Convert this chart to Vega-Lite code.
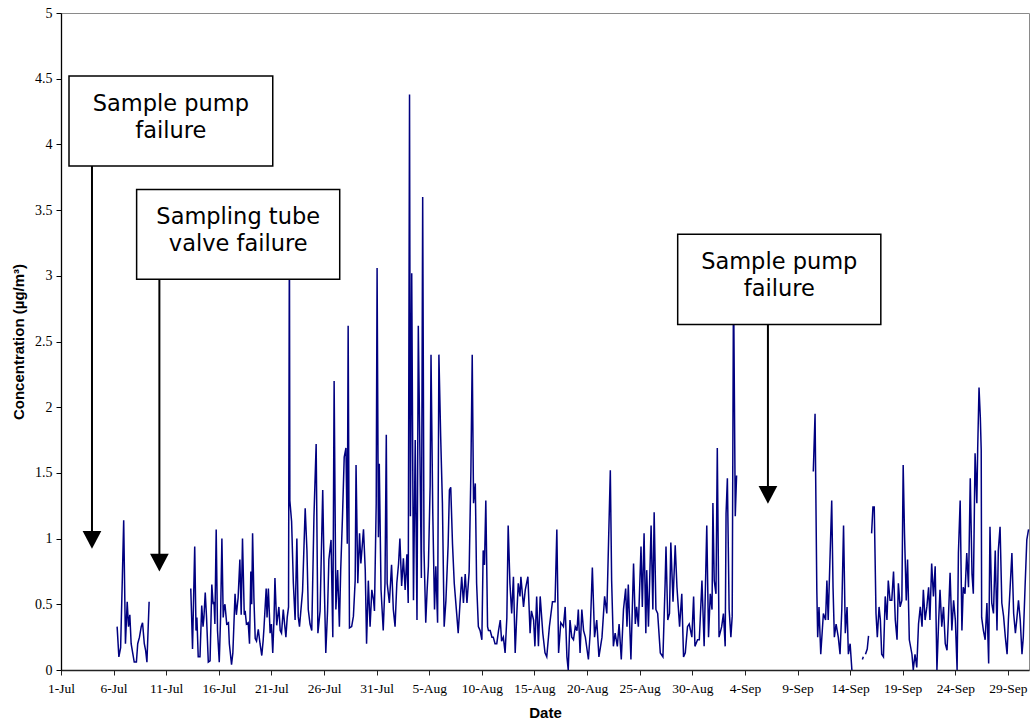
{
  "$schema": "https://vega.github.io/schema/vega-lite/v6.json",
  "width": 968,
  "height": 657,
  "autosize": {"type": "none"},
  "padding": {"left": 61, "top": 13, "right": 1, "bottom": 55},
  "background": "white",
  "config": {
    "font": "Liberation Sans",
    "view": {"stroke": "#8a8a8a", "strokeWidth": 1},
    "axis": {
      "grid": false,
      "tickWidth": 1,
      "tickSize": 5,
      "labelFont": "Liberation Serif",
      "labelColor": "black",
      "labelFlush": false,
      "labelOverlap": false,
      "titleFont": "Liberation Sans",
      "titleFontWeight": "bold",
      "titleFontSize": 15,
      "titleColor": "black"
    },
    "axisX": {
      "domainColor": "#222222",
      "domainWidth": 1.5,
      "tickColor": "#222222",
      "labelFontSize": 13.5,
      "labelPadding": 6,
      "titlePadding": 11
    },
    "axisY": {
      "domainColor": "black",
      "domainWidth": 1.3,
      "tickColor": "black",
      "labelFontSize": 14,
      "labelPadding": 4,
      "titlePadding": 8
    }
  },
  "datasets": {
    "concentration": [
      {"time":"2005-07-06T08:00","conc":0.33,"run":1},
      {"time":"2005-07-06T12:00","conc":0.10,"run":1},
      {"time":"2005-07-06T16:00","conc":0.17,"run":1},
      {"time":"2005-07-06T20:00","conc":0.71,"run":1},
      {"time":"2005-07-06T23:00","conc":1.14,"run":1},
      {"time":"2005-07-07T03:00","conc":0.20,"run":1},
      {"time":"2005-07-07T07:00","conc":0.52,"run":1},
      {"time":"2005-07-07T10:00","conc":0.33,"run":1},
      {"time":"2005-07-07T13:00","conc":0.42,"run":1},
      {"time":"2005-07-07T16:00","conc":0.20,"run":1},
      {"time":"2005-07-07T20:00","conc":0.12,"run":1},
      {"time":"2005-07-07T23:00","conc":0.06,"run":1},
      {"time":"2005-07-08T04:00","conc":0.06,"run":1},
      {"time":"2005-07-08T07:00","conc":0.20,"run":1},
      {"time":"2005-07-08T11:00","conc":0.25,"run":1},
      {"time":"2005-07-08T15:00","conc":0.33,"run":1},
      {"time":"2005-07-08T18:00","conc":0.36,"run":1},
      {"time":"2005-07-08T22:00","conc":0.20,"run":1},
      {"time":"2005-07-09T01:00","conc":0.15,"run":1},
      {"time":"2005-07-09T04:00","conc":0.06,"run":1},
      {"time":"2005-07-09T09:00","conc":0.52,"run":1},

      {"time":"2005-07-13T08:00","conc":0.62,"run":2},
      {"time":"2005-07-13T10:00","conc":0.40,"run":2},
      {"time":"2005-07-13T12:00","conc":0.16,"run":2},
      {"time":"2005-07-13T17:00","conc":0.94,"run":2},
      {"time":"2005-07-13T20:00","conc":0.30,"run":2},
      {"time":"2005-07-13T22:00","conc":0.40,"run":2},
      {"time":"2005-07-14T01:00","conc":0.10,"run":2},
      {"time":"2005-07-14T05:00","conc":0.10,"run":2},
      {"time":"2005-07-14T09:00","conc":0.49,"run":2},
      {"time":"2005-07-14T12:00","conc":0.33,"run":2},
      {"time":"2005-07-14T14:00","conc":0.40,"run":2},
      {"time":"2005-07-14T17:00","conc":0.59,"run":2},
      {"time":"2005-07-14T20:00","conc":0.40,"run":2},
      {"time":"2005-07-15T00:00","conc":0.06,"run":2},
      {"time":"2005-07-15T04:00","conc":0.07,"run":2},
      {"time":"2005-07-15T08:00","conc":0.65,"run":2},
      {"time":"2005-07-15T11:00","conc":0.50,"run":2},
      {"time":"2005-07-15T13:00","conc":0.52,"run":2},
      {"time":"2005-07-15T15:00","conc":0.35,"run":2},
      {"time":"2005-07-15T18:00","conc":1.07,"run":2},
      {"time":"2005-07-15T21:00","conc":0.30,"run":2},
      {"time":"2005-07-16T01:00","conc":0.06,"run":2},
      {"time":"2005-07-16T04:00","conc":0.40,"run":2},
      {"time":"2005-07-16T07:00","conc":1.00,"run":2},
      {"time":"2005-07-16T10:00","conc":0.40,"run":2},
      {"time":"2005-07-16T12:00","conc":0.48,"run":2},
      {"time":"2005-07-16T14:00","conc":0.50,"run":2},
      {"time":"2005-07-16T18:00","conc":0.35,"run":2},
      {"time":"2005-07-16T22:00","conc":0.36,"run":2},
      {"time":"2005-07-17T00:00","conc":0.20,"run":2},
      {"time":"2005-07-17T05:00","conc":0.04,"run":2},
      {"time":"2005-07-17T08:00","conc":0.13,"run":2},
      {"time":"2005-07-17T13:00","conc":0.58,"run":2},
      {"time":"2005-07-17T16:00","conc":0.42,"run":2},
      {"time":"2005-07-17T20:00","conc":0.55,"run":2},
      {"time":"2005-07-18T00:00","conc":0.84,"run":2},
      {"time":"2005-07-18T03:00","conc":0.42,"run":2},
      {"time":"2005-07-18T06:00","conc":1.00,"run":2},
      {"time":"2005-07-18T10:00","conc":0.42,"run":2},
      {"time":"2005-07-18T12:00","conc":0.45,"run":2},
      {"time":"2005-07-18T15:00","conc":0.35,"run":2},
      {"time":"2005-07-18T19:00","conc":0.36,"run":2},
      {"time":"2005-07-18T22:00","conc":0.20,"run":2},
      {"time":"2005-07-19T01:00","conc":0.75,"run":2},
      {"time":"2005-07-19T03:00","conc":0.50,"run":2},
      {"time":"2005-07-19T05:00","conc":1.04,"run":2},
      {"time":"2005-07-19T08:00","conc":0.55,"run":2},
      {"time":"2005-07-19T11:00","conc":0.24,"run":2},
      {"time":"2005-07-19T14:00","conc":0.22,"run":2},
      {"time":"2005-07-19T18:00","conc":0.31,"run":2},
      {"time":"2005-07-19T22:00","conc":0.20,"run":2},
      {"time":"2005-07-20T02:00","conc":0.11,"run":2},
      {"time":"2005-07-20T05:00","conc":0.22,"run":2},
      {"time":"2005-07-20T07:00","conc":0.32,"run":2},
      {"time":"2005-07-20T12:00","conc":0.62,"run":2},
      {"time":"2005-07-20T14:00","conc":0.40,"run":2},
      {"time":"2005-07-20T17:00","conc":0.62,"run":2},
      {"time":"2005-07-20T21:00","conc":0.28,"run":2},
      {"time":"2005-07-21T00:00","conc":0.35,"run":2},
      {"time":"2005-07-21T03:00","conc":0.13,"run":2},
      {"time":"2005-07-21T06:00","conc":0.40,"run":2},
      {"time":"2005-07-21T08:00","conc":0.70,"run":2},
      {"time":"2005-07-21T12:00","conc":0.34,"run":2},
      {"time":"2005-07-21T17:00","conc":0.48,"run":2},
      {"time":"2005-07-21T20:00","conc":0.30,"run":2},
      {"time":"2005-07-21T23:00","conc":0.28,"run":2},
      {"time":"2005-07-22T03:00","conc":0.46,"run":2},
      {"time":"2005-07-22T06:00","conc":0.35,"run":2},
      {"time":"2005-07-22T09:00","conc":0.25,"run":2},
      {"time":"2005-07-22T12:00","conc":0.40,"run":2},
      {"time":"2005-07-22T15:00","conc":0.48,"run":2},
      {"time":"2005-07-22T17:00","conc":3.40,"run":2},
      {"time":"2005-07-22T18:00","conc":1.29,"run":2},
      {"time":"2005-07-22T22:00","conc":1.13,"run":2},
      {"time":"2005-07-23T02:00","conc":0.66,"run":2},
      {"time":"2005-07-23T06:00","conc":0.38,"run":2},
      {"time":"2005-07-23T10:00","conc":1.00,"run":2},
      {"time":"2005-07-23T13:00","conc":0.41,"run":2},
      {"time":"2005-07-23T16:00","conc":0.33,"run":2},
      {"time":"2005-07-23T23:00","conc":0.60,"run":2},
      {"time":"2005-07-24T05:00","conc":1.23,"run":2},
      {"time":"2005-07-24T09:00","conc":0.91,"run":2},
      {"time":"2005-07-24T12:00","conc":0.46,"run":2},
      {"time":"2005-07-24T16:00","conc":0.35,"run":2},
      {"time":"2005-07-24T20:00","conc":0.30,"run":2},
      {"time":"2005-07-25T01:00","conc":1.17,"run":2},
      {"time":"2005-07-25T06:00","conc":1.72,"run":2},
      {"time":"2005-07-25T10:00","conc":0.28,"run":2},
      {"time":"2005-07-25T15:00","conc":0.45,"run":2},
      {"time":"2005-07-25T21:00","conc":1.37,"run":2},
      {"time":"2005-07-26T01:00","conc":0.58,"run":2},
      {"time":"2005-07-26T04:00","conc":0.13,"run":2},
      {"time":"2005-07-26T08:00","conc":0.45,"run":2},
      {"time":"2005-07-26T11:00","conc":0.84,"run":2},
      {"time":"2005-07-26T16:00","conc":0.99,"run":2},
      {"time":"2005-07-26T20:00","conc":0.25,"run":2},
      {"time":"2005-07-26T23:00","conc":2.20,"run":2},
      {"time":"2005-07-27T03:00","conc":0.46,"run":2},
      {"time":"2005-07-27T07:00","conc":0.76,"run":2},
      {"time":"2005-07-27T11:00","conc":0.33,"run":2},
      {"time":"2005-07-27T14:00","conc":0.76,"run":2},
      {"time":"2005-07-27T18:00","conc":1.16,"run":2},
      {"time":"2005-07-27T22:00","conc":1.62,"run":2},
      {"time":"2005-07-28T02:00","conc":1.69,"run":2},
      {"time":"2005-07-28T05:00","conc":0.96,"run":2},
      {"time":"2005-07-28T07:00","conc":2.62,"run":2},
      {"time":"2005-07-28T10:00","conc":0.32,"run":2},
      {"time":"2005-07-28T15:00","conc":0.33,"run":2},
      {"time":"2005-07-28T19:00","conc":0.41,"run":2},
      {"time":"2005-07-28T23:00","conc":0.68,"run":2},
      {"time":"2005-07-29T01:00","conc":1.56,"run":2},
      {"time":"2005-07-29T05:00","conc":0.66,"run":2},
      {"time":"2005-07-29T09:00","conc":1.04,"run":2},
      {"time":"2005-07-29T12:00","conc":0.81,"run":2},
      {"time":"2005-07-29T18:00","conc":1.07,"run":2},
      {"time":"2005-07-29T22:00","conc":0.76,"run":2},
      {"time":"2005-07-30T01:00","conc":0.20,"run":2},
      {"time":"2005-07-30T05:00","conc":0.68,"run":2},
      {"time":"2005-07-30T09:00","conc":0.33,"run":2},
      {"time":"2005-07-30T13:00","conc":0.61,"run":2},
      {"time":"2005-07-30T17:00","conc":0.53,"run":2},
      {"time":"2005-07-30T19:00","conc":0.45,"run":2},
      {"time":"2005-07-30T23:00","conc":1.27,"run":2},
      {"time":"2005-07-31T01:00","conc":3.06,"run":2},
      {"time":"2005-07-31T04:00","conc":1.01,"run":2},
      {"time":"2005-07-31T06:00","conc":1.57,"run":2},
      {"time":"2005-07-31T10:00","conc":0.61,"run":2},
      {"time":"2005-07-31T15:00","conc":0.30,"run":2},
      {"time":"2005-07-31T19:00","conc":0.66,"run":2},
      {"time":"2005-07-31T22:00","conc":1.79,"run":2},
      {"time":"2005-08-01T00:00","conc":0.66,"run":2},
      {"time":"2005-08-01T05:00","conc":0.51,"run":2},
      {"time":"2005-08-01T10:00","conc":0.80,"run":2},
      {"time":"2005-08-01T14:00","conc":0.46,"run":2},
      {"time":"2005-08-01T18:00","conc":0.33,"run":2},
      {"time":"2005-08-01T22:00","conc":0.66,"run":2},
      {"time":"2005-08-02T02:00","conc":0.81,"run":2},
      {"time":"2005-08-02T05:00","conc":1.00,"run":2},
      {"time":"2005-08-02T09:00","conc":0.64,"run":2},
      {"time":"2005-08-02T13:00","conc":0.85,"run":2},
      {"time":"2005-08-02T17:00","conc":0.61,"run":2},
      {"time":"2005-08-02T21:00","conc":0.88,"run":2},
      {"time":"2005-08-03T00:00","conc":0.51,"run":2},
      {"time":"2005-08-03T03:00","conc":4.38,"run":2},
      {"time":"2005-08-03T05:00","conc":1.17,"run":2},
      {"time":"2005-08-03T08:00","conc":3.02,"run":2},
      {"time":"2005-08-03T12:00","conc":0.53,"run":2},
      {"time":"2005-08-03T16:00","conc":1.75,"run":2},
      {"time":"2005-08-03T20:00","conc":0.38,"run":2},
      {"time":"2005-08-03T23:00","conc":2.62,"run":2},
      {"time":"2005-08-04T03:00","conc":1.57,"run":2},
      {"time":"2005-08-04T06:00","conc":0.70,"run":2},
      {"time":"2005-08-04T09:00","conc":3.60,"run":2},
      {"time":"2005-08-04T12:00","conc":0.91,"run":2},
      {"time":"2005-08-04T16:00","conc":0.36,"run":2},
      {"time":"2005-08-04T19:00","conc":0.60,"run":2},
      {"time":"2005-08-04T22:00","conc":0.79,"run":2},
      {"time":"2005-08-05T02:00","conc":1.40,"run":2},
      {"time":"2005-08-05T04:00","conc":2.40,"run":2},
      {"time":"2005-08-05T08:00","conc":1.20,"run":2},
      {"time":"2005-08-05T12:00","conc":0.46,"run":2},
      {"time":"2005-08-05T15:00","conc":0.79,"run":2},
      {"time":"2005-08-05T19:00","conc":0.36,"run":2},
      {"time":"2005-08-05T22:00","conc":2.40,"run":2},
      {"time":"2005-08-06T02:00","conc":1.78,"run":2},
      {"time":"2005-08-06T06:00","conc":1.27,"run":2},
      {"time":"2005-08-06T10:00","conc":0.33,"run":2},
      {"time":"2005-08-06T14:00","conc":0.53,"run":2},
      {"time":"2005-08-06T19:00","conc":0.95,"run":2},
      {"time":"2005-08-06T22:00","conc":1.37,"run":2},
      {"time":"2005-08-07T01:00","conc":1.39,"run":2},
      {"time":"2005-08-07T05:00","conc":0.96,"run":2},
      {"time":"2005-08-07T09:00","conc":0.66,"run":2},
      {"time":"2005-08-07T15:00","conc":0.41,"run":2},
      {"time":"2005-08-07T18:00","conc":0.28,"run":2},
      {"time":"2005-08-07T22:00","conc":0.50,"run":2},
      {"time":"2005-08-08T02:00","conc":0.71,"run":2},
      {"time":"2005-08-08T06:00","conc":0.51,"run":2},
      {"time":"2005-08-08T10:00","conc":0.73,"run":2},
      {"time":"2005-08-08T14:00","conc":0.51,"run":2},
      {"time":"2005-08-08T19:00","conc":0.75,"run":2},
      {"time":"2005-08-08T23:00","conc":1.52,"run":2},
      {"time":"2005-08-09T02:00","conc":2.40,"run":2},
      {"time":"2005-08-09T05:00","conc":1.27,"run":2},
      {"time":"2005-08-09T09:00","conc":1.42,"run":2},
      {"time":"2005-08-09T12:00","conc":0.66,"run":2},
      {"time":"2005-08-09T16:00","conc":0.33,"run":2},
      {"time":"2005-08-09T20:00","conc":0.30,"run":2},
      {"time":"2005-08-10T00:00","conc":0.23,"run":2},
      {"time":"2005-08-10T03:00","conc":0.91,"run":2},
      {"time":"2005-08-10T06:00","conc":0.80,"run":2},
      {"time":"2005-08-10T09:00","conc":1.29,"run":2},
      {"time":"2005-08-10T13:00","conc":0.33,"run":2},
      {"time":"2005-08-10T15:00","conc":0.30,"run":2},
      {"time":"2005-08-10T19:00","conc":0.30,"run":2},
      {"time":"2005-08-10T23:00","conc":0.25,"run":2},
      {"time":"2005-08-11T02:00","conc":0.25,"run":2},
      {"time":"2005-08-11T06:00","conc":0.20,"run":2},
      {"time":"2005-08-11T10:00","conc":0.20,"run":2},
      {"time":"2005-08-11T14:00","conc":0.30,"run":2},
      {"time":"2005-08-11T18:00","conc":0.38,"run":2},
      {"time":"2005-08-11T21:00","conc":0.22,"run":2},
      {"time":"2005-08-12T01:00","conc":0.25,"run":2},
      {"time":"2005-08-12T05:00","conc":0.13,"run":2},
      {"time":"2005-08-12T09:00","conc":0.40,"run":2},
      {"time":"2005-08-12T12:00","conc":1.10,"run":2},
      {"time":"2005-08-12T16:00","conc":0.66,"run":2},
      {"time":"2005-08-12T20:00","conc":0.43,"run":2},
      {"time":"2005-08-13T00:00","conc":0.71,"run":2},
      {"time":"2005-08-13T04:00","conc":0.13,"run":2},
      {"time":"2005-08-13T08:00","conc":0.45,"run":2},
      {"time":"2005-08-13T11:00","conc":0.66,"run":2},
      {"time":"2005-08-13T15:00","conc":0.56,"run":2},
      {"time":"2005-08-13T17:00","conc":0.71,"run":2},
      {"time":"2005-08-13T23:00","conc":0.48,"run":2},
      {"time":"2005-08-14T03:00","conc":0.61,"run":2},
      {"time":"2005-08-14T09:00","conc":0.71,"run":2},
      {"time":"2005-08-14T14:00","conc":0.28,"run":2},
      {"time":"2005-08-14T17:00","conc":0.45,"run":2},
      {"time":"2005-08-14T22:00","conc":0.38,"run":2},
      {"time":"2005-08-15T01:00","conc":0.18,"run":2},
      {"time":"2005-08-15T05:00","conc":0.56,"run":2},
      {"time":"2005-08-15T09:00","conc":0.18,"run":2},
      {"time":"2005-08-15T13:00","conc":0.56,"run":2},
      {"time":"2005-08-15T19:00","conc":0.28,"run":2},
      {"time":"2005-08-16T00:00","conc":0.13,"run":2},
      {"time":"2005-08-16T04:00","conc":0.10,"run":2},
      {"time":"2005-08-16T10:00","conc":0.33,"run":2},
      {"time":"2005-08-16T17:00","conc":0.52,"run":2},
      {"time":"2005-08-16T23:00","conc":0.52,"run":2},
      {"time":"2005-08-17T03:00","conc":1.07,"run":2},
      {"time":"2005-08-17T07:00","conc":0.13,"run":2},
      {"time":"2005-08-17T12:00","conc":0.36,"run":2},
      {"time":"2005-08-17T18:00","conc":0.33,"run":2},
      {"time":"2005-08-17T22:00","conc":0.48,"run":2},
      {"time":"2005-08-18T02:00","conc":0.10,"run":2},
      {"time":"2005-08-18T05:00","conc":0.00,"run":2},
      {"time":"2005-08-18T09:00","conc":0.38,"run":2},
      {"time":"2005-08-18T13:00","conc":0.25,"run":2},
      {"time":"2005-08-18T17:00","conc":0.23,"run":2},
      {"time":"2005-08-18T21:00","conc":0.33,"run":2},
      {"time":"2005-08-19T01:00","conc":0.30,"run":2},
      {"time":"2005-08-19T04:00","conc":0.46,"run":2},
      {"time":"2005-08-19T08:00","conc":0.13,"run":2},
      {"time":"2005-08-19T12:00","conc":0.46,"run":2},
      {"time":"2005-08-19T16:00","conc":0.30,"run":2},
      {"time":"2005-08-19T20:00","conc":0.25,"run":2},
      {"time":"2005-08-20T03:00","conc":0.08,"run":2},
      {"time":"2005-08-20T07:00","conc":0.28,"run":2},
      {"time":"2005-08-20T12:00","conc":0.78,"run":2},
      {"time":"2005-08-20T17:00","conc":0.25,"run":2},
      {"time":"2005-08-20T22:00","conc":0.38,"run":2},
      {"time":"2005-08-21T03:00","conc":0.10,"run":2},
      {"time":"2005-08-21T10:00","conc":0.25,"run":2},
      {"time":"2005-08-21T16:00","conc":0.56,"run":2},
      {"time":"2005-08-21T21:00","conc":0.43,"run":2},
      {"time":"2005-08-22T01:00","conc":0.98,"run":2},
      {"time":"2005-08-22T05:00","conc":1.52,"run":2},
      {"time":"2005-08-22T08:00","conc":0.68,"run":2},
      {"time":"2005-08-22T12:00","conc":0.18,"run":2},
      {"time":"2005-08-22T16:00","conc":0.28,"run":2},
      {"time":"2005-08-22T21:00","conc":0.18,"run":2},
      {"time":"2005-08-23T01:00","conc":0.35,"run":2},
      {"time":"2005-08-23T06:00","conc":0.08,"run":2},
      {"time":"2005-08-23T11:00","conc":0.46,"run":2},
      {"time":"2005-08-23T16:00","conc":0.62,"run":2},
      {"time":"2005-08-23T19:00","conc":0.33,"run":2},
      {"time":"2005-08-23T22:00","conc":0.65,"run":2},
      {"time":"2005-08-24T04:00","conc":0.08,"run":2},
      {"time":"2005-08-24T10:00","conc":0.81,"run":2},
      {"time":"2005-08-24T14:00","conc":0.35,"run":2},
      {"time":"2005-08-24T17:00","conc":0.48,"run":2},
      {"time":"2005-08-24T21:00","conc":0.33,"run":2},
      {"time":"2005-08-25T03:00","conc":0.94,"run":2},
      {"time":"2005-08-25T06:00","conc":0.48,"run":2},
      {"time":"2005-08-25T10:00","conc":1.04,"run":2},
      {"time":"2005-08-25T14:00","conc":0.28,"run":2},
      {"time":"2005-08-25T16:00","conc":0.76,"run":2},
      {"time":"2005-08-25T20:00","conc":0.33,"run":2},
      {"time":"2005-08-26T02:00","conc":1.10,"run":2},
      {"time":"2005-08-26T06:00","conc":0.46,"run":2},
      {"time":"2005-08-26T09:00","conc":1.20,"run":2},
      {"time":"2005-08-26T13:00","conc":0.46,"run":2},
      {"time":"2005-08-26T17:00","conc":0.43,"run":2},
      {"time":"2005-08-26T23:00","conc":0.13,"run":2},
      {"time":"2005-08-27T05:00","conc":0.10,"run":2},
      {"time":"2005-08-27T10:00","conc":0.66,"run":2},
      {"time":"2005-08-27T12:00","conc":0.94,"run":2},
      {"time":"2005-08-27T16:00","conc":0.38,"run":2},
      {"time":"2005-08-27T20:00","conc":0.43,"run":2},
      {"time":"2005-08-27T23:00","conc":0.97,"run":2},
      {"time":"2005-08-28T04:00","conc":0.52,"run":2},
      {"time":"2005-08-28T09:00","conc":0.95,"run":2},
      {"time":"2005-08-28T13:00","conc":0.63,"run":2},
      {"time":"2005-08-28T19:00","conc":0.33,"run":2},
      {"time":"2005-08-29T00:00","conc":0.58,"run":2},
      {"time":"2005-08-29T04:00","conc":0.10,"run":2},
      {"time":"2005-08-29T08:00","conc":0.13,"run":2},
      {"time":"2005-08-29T13:00","conc":0.33,"run":2},
      {"time":"2005-08-29T17:00","conc":0.35,"run":2},
      {"time":"2005-08-29T23:00","conc":0.25,"run":2},
      {"time":"2005-08-30T03:00","conc":0.56,"run":2},
      {"time":"2005-08-30T06:00","conc":0.18,"run":2},
      {"time":"2005-08-30T12:00","conc":0.23,"run":2},
      {"time":"2005-08-30T16:00","conc":0.23,"run":2},
      {"time":"2005-08-30T22:00","conc":0.68,"run":2},
      {"time":"2005-08-31T03:00","conc":0.18,"run":2},
      {"time":"2005-08-31T09:00","conc":1.10,"run":2},
      {"time":"2005-08-31T13:00","conc":0.25,"run":2},
      {"time":"2005-08-31T17:00","conc":0.58,"run":2},
      {"time":"2005-08-31T21:00","conc":0.46,"run":2},
      {"time":"2005-08-31T23:00","conc":1.27,"run":2},
      {"time":"2005-09-01T02:00","conc":0.68,"run":2},
      {"time":"2005-09-01T06:00","conc":0.58,"run":2},
      {"time":"2005-09-01T09:00","conc":1.69,"run":2},
      {"time":"2005-09-01T13:00","conc":0.25,"run":2},
      {"time":"2005-09-01T19:00","conc":0.33,"run":2},
      {"time":"2005-09-01T23:00","conc":0.43,"run":2},
      {"time":"2005-09-02T03:00","conc":0.18,"run":2},
      {"time":"2005-09-02T05:00","conc":1.19,"run":2},
      {"time":"2005-09-02T08:00","conc":1.46,"run":2},
      {"time":"2005-09-02T12:00","conc":0.46,"run":2},
      {"time":"2005-09-02T16:00","conc":0.25,"run":2},
      {"time":"2005-09-02T19:00","conc":0.41,"run":2},
      {"time":"2005-09-02T22:00","conc":3.00,"run":2},
      {"time":"2005-09-03T02:00","conc":1.17,"run":2},
      {"time":"2005-09-03T05:00","conc":1.48,"run":2},

      {"time":"2005-09-10T12:00","conc":1.51,"run":3},
      {"time":"2005-09-10T16:00","conc":1.95,"run":3},
      {"time":"2005-09-10T18:00","conc":1.27,"run":3},
      {"time":"2005-09-10T20:00","conc":0.61,"run":3},
      {"time":"2005-09-10T22:00","conc":0.25,"run":3},
      {"time":"2005-09-11T01:00","conc":0.48,"run":3},
      {"time":"2005-09-11T05:00","conc":0.12,"run":3},
      {"time":"2005-09-11T11:00","conc":0.43,"run":3},
      {"time":"2005-09-11T16:00","conc":0.38,"run":3},
      {"time":"2005-09-11T19:00","conc":0.68,"run":3},
      {"time":"2005-09-11T22:00","conc":0.38,"run":3},
      {"time":"2005-09-12T02:00","conc":0.84,"run":3},
      {"time":"2005-09-12T06:00","conc":1.29,"run":3},
      {"time":"2005-09-12T09:00","conc":0.63,"run":3},
      {"time":"2005-09-12T12:00","conc":0.25,"run":3},
      {"time":"2005-09-12T16:00","conc":0.35,"run":3},
      {"time":"2005-09-12T21:00","conc":0.25,"run":3},
      {"time":"2005-09-13T01:00","conc":0.12,"run":3},
      {"time":"2005-09-13T05:00","conc":0.46,"run":3},
      {"time":"2005-09-13T09:00","conc":1.10,"run":3},
      {"time":"2005-09-13T13:00","conc":0.28,"run":3},
      {"time":"2005-09-13T17:00","conc":0.48,"run":3},
      {"time":"2005-09-13T20:00","conc":0.12,"run":3},
      {"time":"2005-09-14T00:00","conc":0.20,"run":3},
      {"time":"2005-09-14T04:00","conc":0.00,"run":3},

      {"time":"2005-09-15T04:00","conc":0.08,"run":4},
      {"time":"2005-09-15T06:00","conc":0.10,"run":4},

      {"time":"2005-09-15T11:00","conc":0.12,"run":5},
      {"time":"2005-09-15T15:00","conc":0.16,"run":5},
      {"time":"2005-09-15T18:00","conc":0.26,"run":5},

      {"time":"2005-09-16T01:00","conc":1.04,"run":6},
      {"time":"2005-09-16T04:00","conc":1.24,"run":6},
      {"time":"2005-09-16T07:00","conc":1.24,"run":6},
      {"time":"2005-09-16T09:00","conc":0.84,"run":6},
      {"time":"2005-09-16T11:00","conc":0.43,"run":6},
      {"time":"2005-09-16T14:00","conc":0.25,"run":6},
      {"time":"2005-09-16T18:00","conc":0.48,"run":6},
      {"time":"2005-09-16T21:00","conc":0.38,"run":6},
      {"time":"2005-09-17T00:00","conc":0.12,"run":6},
      {"time":"2005-09-17T04:00","conc":0.10,"run":6},
      {"time":"2005-09-17T08:00","conc":0.56,"run":6},
      {"time":"2005-09-17T12:00","conc":0.38,"run":6},
      {"time":"2005-09-17T15:00","conc":0.68,"run":6},
      {"time":"2005-09-17T19:00","conc":0.53,"run":6},
      {"time":"2005-09-17T23:00","conc":0.53,"run":6},
      {"time":"2005-09-18T03:00","conc":0.75,"run":6},
      {"time":"2005-09-18T07:00","conc":0.38,"run":6},
      {"time":"2005-09-18T11:00","conc":0.23,"run":6},
      {"time":"2005-09-18T14:00","conc":0.66,"run":6},
      {"time":"2005-09-18T18:00","conc":0.48,"run":6},
      {"time":"2005-09-18T22:00","conc":0.53,"run":6},
      {"time":"2005-09-19T01:00","conc":1.56,"run":6},
      {"time":"2005-09-19T04:00","conc":1.04,"run":6},
      {"time":"2005-09-19T08:00","conc":0.53,"run":6},
      {"time":"2005-09-19T11:00","conc":0.84,"run":6},
      {"time":"2005-09-19T15:00","conc":0.23,"run":6},
      {"time":"2005-09-19T21:00","conc":0.12,"run":6},
      {"time":"2005-09-20T00:00","conc":0.00,"run":6},
      {"time":"2005-09-20T04:00","conc":0.12,"run":6},
      {"time":"2005-09-20T08:00","conc":0.02,"run":6},
      {"time":"2005-09-20T12:00","conc":0.35,"run":6},
      {"time":"2005-09-20T16:00","conc":0.48,"run":6},
      {"time":"2005-09-20T20:00","conc":0.33,"run":6},
      {"time":"2005-09-20T23:00","conc":0.61,"run":6},
      {"time":"2005-09-21T03:00","conc":0.38,"run":6},
      {"time":"2005-09-21T07:00","conc":0.48,"run":6},
      {"time":"2005-09-21T11:00","conc":0.63,"run":6},
      {"time":"2005-09-21T14:00","conc":0.38,"run":6},
      {"time":"2005-09-21T18:00","conc":0.81,"run":6},
      {"time":"2005-09-21T22:00","conc":0.56,"run":6},
      {"time":"2005-09-22T02:00","conc":0.79,"run":6},
      {"time":"2005-09-22T06:00","conc":0.00,"run":6},
      {"time":"2005-09-22T10:00","conc":0.38,"run":6},
      {"time":"2005-09-22T13:00","conc":0.61,"run":6},
      {"time":"2005-09-22T17:00","conc":0.33,"run":6},
      {"time":"2005-09-22T21:00","conc":0.48,"run":6},
      {"time":"2005-09-23T01:00","conc":0.20,"run":6},
      {"time":"2005-09-23T05:00","conc":0.15,"run":6},
      {"time":"2005-09-23T08:00","conc":0.38,"run":6},
      {"time":"2005-09-23T12:00","conc":0.74,"run":6},
      {"time":"2005-09-23T16:00","conc":0.30,"run":6},
      {"time":"2005-09-23T20:00","conc":0.53,"run":6},
      {"time":"2005-09-24T00:00","conc":0.38,"run":6},
      {"time":"2005-09-24T04:00","conc":0.00,"run":6},
      {"time":"2005-09-24T07:00","conc":0.89,"run":6},
      {"time":"2005-09-24T11:00","conc":1.29,"run":6},
      {"time":"2005-09-24T15:00","conc":0.30,"run":6},
      {"time":"2005-09-24T18:00","conc":0.63,"run":6},
      {"time":"2005-09-24T22:00","conc":0.58,"run":6},
      {"time":"2005-09-25T02:00","conc":0.89,"run":6},
      {"time":"2005-09-25T06:00","conc":0.63,"run":6},
      {"time":"2005-09-25T10:00","conc":1.46,"run":6},
      {"time":"2005-09-25T14:00","conc":0.73,"run":6},
      {"time":"2005-09-25T17:00","conc":0.58,"run":6},
      {"time":"2005-09-25T21:00","conc":1.65,"run":6},
      {"time":"2005-09-26T01:00","conc":1.27,"run":6},
      {"time":"2005-09-26T03:00","conc":1.69,"run":6},
      {"time":"2005-09-26T06:00","conc":2.15,"run":6},
      {"time":"2005-09-26T09:00","conc":1.92,"run":6},
      {"time":"2005-09-26T11:00","conc":1.67,"run":6},
      {"time":"2005-09-26T12:00","conc":0.40,"run":6},
      {"time":"2005-09-26T16:00","conc":0.30,"run":6},
      {"time":"2005-09-26T20:00","conc":0.23,"run":6},
      {"time":"2005-09-27T00:00","conc":0.51,"run":6},
      {"time":"2005-09-27T04:00","conc":0.05,"run":6},
      {"time":"2005-09-27T07:00","conc":1.09,"run":6},
      {"time":"2005-09-27T11:00","conc":0.51,"run":6},
      {"time":"2005-09-27T15:00","conc":0.43,"run":6},
      {"time":"2005-09-27T19:00","conc":0.91,"run":6},
      {"time":"2005-09-27T23:00","conc":0.30,"run":6},
      {"time":"2005-09-28T02:00","conc":0.91,"run":6},
      {"time":"2005-09-28T06:00","conc":1.09,"run":6},
      {"time":"2005-09-28T10:00","conc":0.51,"run":6},
      {"time":"2005-09-28T14:00","conc":0.41,"run":6},
      {"time":"2005-09-28T18:00","conc":0.25,"run":6},
      {"time":"2005-09-28T22:00","conc":0.12,"run":6},
      {"time":"2005-09-29T01:00","conc":0.38,"run":6},
      {"time":"2005-09-29T05:00","conc":0.63,"run":6},
      {"time":"2005-09-29T09:00","conc":0.89,"run":6},
      {"time":"2005-09-29T13:00","conc":0.43,"run":6},
      {"time":"2005-09-29T17:00","conc":0.28,"run":6},
      {"time":"2005-09-29T20:00","conc":0.38,"run":6},
      {"time":"2005-09-30T00:00","conc":0.53,"run":6},
      {"time":"2005-09-30T04:00","conc":0.38,"run":6},
      {"time":"2005-09-30T08:00","conc":0.12,"run":6},
      {"time":"2005-09-30T11:00","conc":0.25,"run":6},
      {"time":"2005-09-30T15:00","conc":0.63,"run":6},
      {"time":"2005-09-30T19:00","conc":0.99,"run":6},
      {"time":"2005-09-30T23:00","conc":1.07,"run":6}
    ],
    "notes": [
      {"label":"Sample pump\nfailure","boxStart":"2005-07-01T18:15","boxEnd":"2005-07-21T03:00","boxMid":"2005-07-11T10:40","boxTop":4.52,"boxBottom":3.835,"arrowAt":"2005-07-03T22:40","arrowHead":0.99},
      {"label":"Sampling tube\nvalve failure","boxStart":"2005-07-08T04:30","boxEnd":"2005-07-27T11:45","boxMid":"2005-07-17T20:10","boxTop":3.657,"boxBottom":2.974,"arrowAt":"2005-07-10T08:25","arrowHead":0.818},
      {"label":"Sample pump\nfailure","boxStart":"2005-08-28T14:40","boxEnd":"2005-09-16T22:00","boxMid":"2005-09-07T06:20","boxTop":3.317,"boxBottom":2.63,"arrowAt":"2005-09-06T04:30","arrowHead":1.333}
    ]
  },
  "layer": [
    {
      "data": {"name": "concentration"},
      "mark": {"type": "line", "color": "#000080", "strokeWidth": 1.5, "strokeJoin": "miter"},
      "encoding": {
        "x": {
          "field": "time",
          "type": "temporal",
          "title": "Date",
          "scale": {"domain": [{"year": 2005, "month": 7, "date": 1}, {"year": 2005, "month": 10, "date": 1}], "nice": false},
          "axis": {
            "values": [
              {"year": 2005, "month": 7, "date": 1}, {"year": 2005, "month": 7, "date": 6},
              {"year": 2005, "month": 7, "date": 11}, {"year": 2005, "month": 7, "date": 16},
              {"year": 2005, "month": 7, "date": 21}, {"year": 2005, "month": 7, "date": 26},
              {"year": 2005, "month": 7, "date": 31}, {"year": 2005, "month": 8, "date": 5},
              {"year": 2005, "month": 8, "date": 10}, {"year": 2005, "month": 8, "date": 15},
              {"year": 2005, "month": 8, "date": 20}, {"year": 2005, "month": 8, "date": 25},
              {"year": 2005, "month": 8, "date": 30}, {"year": 2005, "month": 9, "date": 4},
              {"year": 2005, "month": 9, "date": 9}, {"year": 2005, "month": 9, "date": 14},
              {"year": 2005, "month": 9, "date": 19}, {"year": 2005, "month": 9, "date": 24},
              {"year": 2005, "month": 9, "date": 29}
            ],
            "format": "%-d-%b"
          }
        },
        "y": {
          "field": "conc",
          "type": "quantitative",
          "title": "Concentration (µg/m³)",
          "scale": {"domain": [0, 5], "nice": false},
          "axis": {
            "values": [0, 0.5, 1, 1.5, 2, 2.5, 3, 3.5, 4, 4.5, 5],
            "format": "~g"
          }
        },
        "detail": {"field": "run", "type": "nominal"}
      }
    },
    {
      "data": {"name": "notes"},
      "mark": {"type": "rect", "fill": "white", "stroke": "black", "strokeWidth": 1.5},
      "encoding": {
        "x": {"field": "boxStart", "type": "temporal", "title": "Date"},
        "x2": {"field": "boxEnd"},
        "y": {"field": "boxTop", "type": "quantitative", "title": "Concentration (µg/m³)"},
        "y2": {"field": "boxBottom"}
      }
    },
    {
      "data": {"name": "notes"},
      "mark": {"type": "rule", "color": "black", "strokeWidth": 2},
      "encoding": {
        "x": {"field": "arrowAt", "type": "temporal", "title": "Date"},
        "y": {"field": "boxBottom", "type": "quantitative", "title": "Concentration (µg/m³)"},
        "y2": {"field": "arrowHead"}
      }
    },
    {
      "data": {"name": "notes"},
      "mark": {"type": "point", "shape": "M-1,-0.95L1,-0.95L0,0.95Z", "filled": true, "color": "black", "opacity": 1, "size": 350},
      "encoding": {
        "x": {"field": "arrowAt", "type": "temporal", "title": "Date"},
        "y": {"field": "arrowHead", "type": "quantitative", "title": "Concentration (µg/m³)"}
      }
    },
    {
      "data": {"name": "notes"},
      "mark": {"type": "text", "font": "DejaVu Sans", "fontSize": 22.5, "lineHeight": 27, "lineBreak": "\n", "align": "center", "baseline": "middle", "dy": 28, "color": "black"},
      "encoding": {
        "x": {"field": "boxMid", "type": "temporal", "title": "Date"},
        "y": {"field": "boxTop", "type": "quantitative", "title": "Concentration (µg/m³)"},
        "text": {"field": "label", "type": "nominal"}
      }
    }
  ]
}
